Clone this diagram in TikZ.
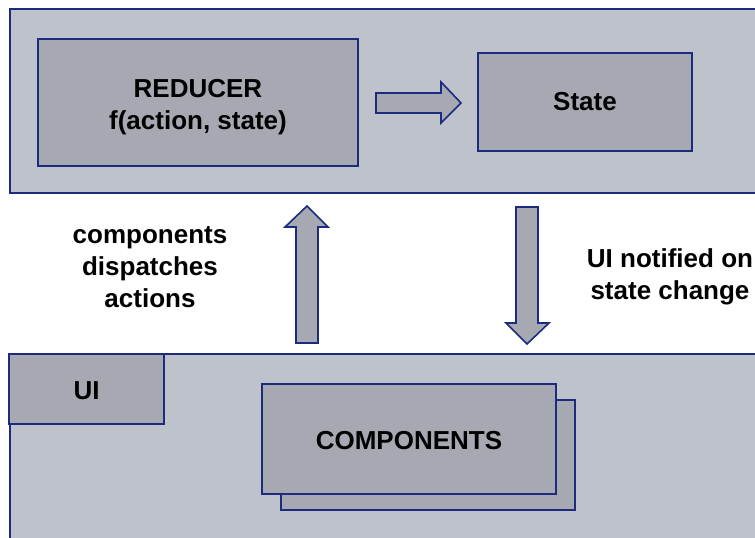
\documentclass[tikz,border=0pt]{standalone}
\usepackage{fontspec}
\setmainfont{Liberation Sans}
\definecolor{panel}{RGB}{190,194,203}
\definecolor{boxfill}{RGB}{166,169,178}
\definecolor{edge}{RGB}{28,42,128}
\tikzset{
  panelbox/.style={draw=edge, fill=panel, line width=1.6pt},
  innerbox/.style={draw=edge, fill=boxfill, line width=1.6pt},
  blockarrow/.style={draw=edge, fill=boxfill, line width=1.6pt, line join=miter},
  lbl/.style={font=\bfseries\fontsize{26}{32}\selectfont, align=center, text=black}
}
\begin{document}
\begin{tikzpicture}[x=1pt,y=-1pt]
\useasboundingbox (0,0) rectangle (755,538);
\fill[white] (0,0) rectangle (755,538);
\clip (0,0) rectangle (755,538);

% store panel
\draw[panelbox] (10,9) rectangle (770,193);
\node[innerbox, minimum width=320pt, minimum height=127pt] (reducer) at (198,102.5) {};
\node[lbl] (reducertxt) at ([yshift=-5pt]reducer.center) {REDUCER\\f(action, state)};
\node[innerbox, minimum width=214pt, minimum height=98pt, lbl] (state) at (585,102) {State};

% reducer produces state
\draw[blockarrow] (376,93) -- (441,93) -- (441,82) -- (461,103) -- (441,123) -- (441,113) -- (376,113) -- cycle;

% ui panel
\draw[panelbox] (10,354) rectangle (770,560);
\node[innerbox, minimum width=155pt, minimum height=70pt] (ui) at (86.5,389) {};
\node[lbl] (uitxt) at ([yshift=-2pt]ui.center) {UI};
\draw[innerbox] (281,400) rectangle (575,510);
\node[innerbox, minimum width=294pt, minimum height=110pt] (comp) at (409,439) {};
\node[lbl] (comptxt) at ([yshift=-2pt]comp.center) {COMPONENTS};

% dispatch arrow (up) and notification arrow (down)
\draw[blockarrow] (296,343) -- (296,227) -- (285,227) -- (307,206) -- (328,227) -- (318,227) -- (318,343) -- cycle;
\draw[blockarrow] (516,207) -- (538,207) -- (538,323) -- (549,323) -- (527,344) -- (506,323) -- (516,323) -- cycle;

\node[lbl] (dispatch) at (150,267) {components\\dispatches\\actions};
\node[lbl] (notify) at (670,277) {UI notified on\\state change};
\end{tikzpicture}
\end{document}
